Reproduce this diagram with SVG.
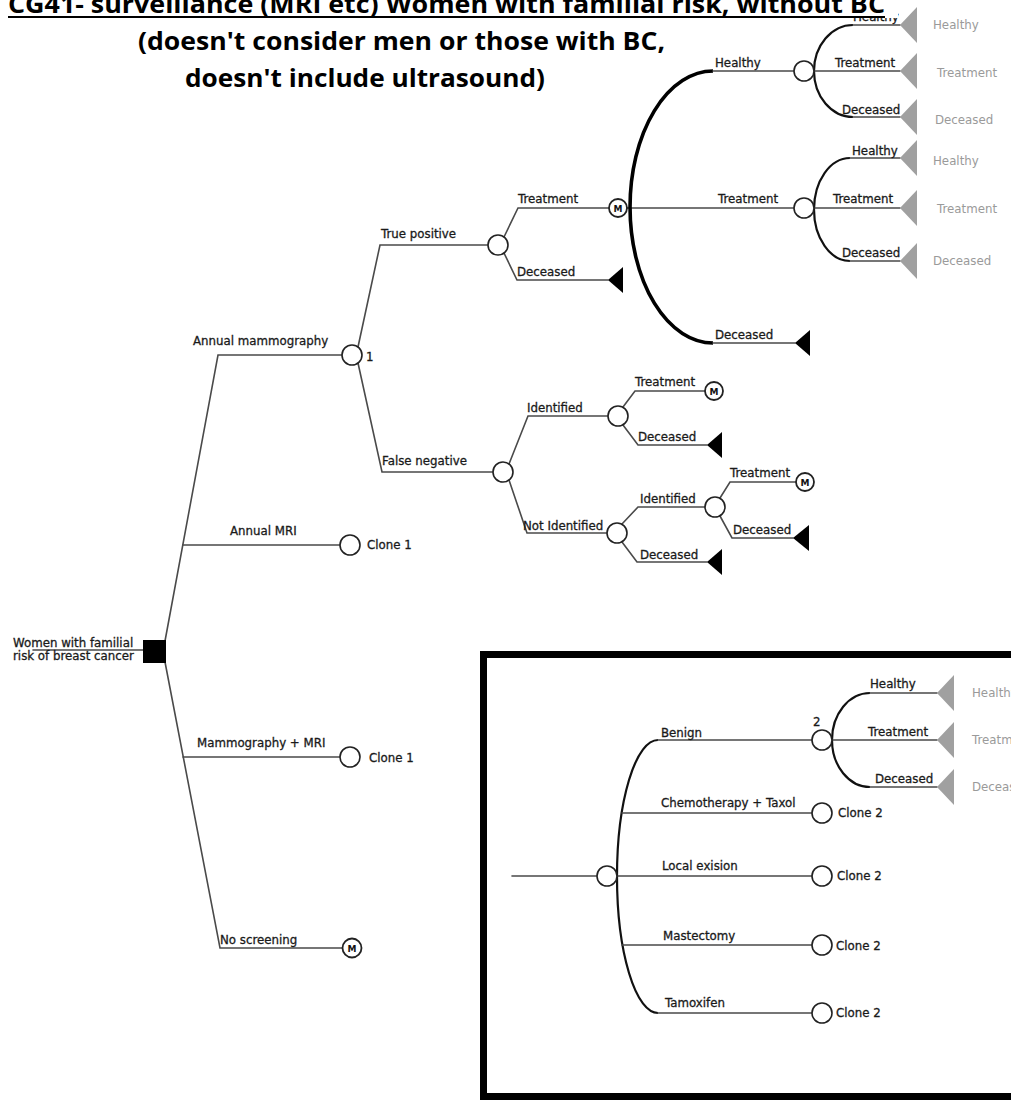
<svg xmlns="http://www.w3.org/2000/svg" width="1011" height="1100" viewBox="0 0 1011 1100">
<style>
.ln{stroke:#4a4a4a;stroke-width:1.6;fill:none;stroke-linecap:round}
.arc{stroke:#111;stroke-width:2.2;fill:none}
.arcb{stroke:#000;stroke-width:3.6;fill:none}
.ch{fill:#fff;stroke:#222;stroke-width:1.6}
.mc{fill:#fff;stroke:#222;stroke-width:1.8}
.mt{font-family:"DejaVu Sans",sans-serif;font-size:9px;font-weight:bold;fill:#111;text-anchor:middle}
.t{font-family:"DejaVu Sans",sans-serif;font-size:11.8px;fill:#1a1a1a;stroke:#1a1a1a;stroke-width:0.3}
.g{font-family:"DejaVu Sans",sans-serif;font-size:11.8px;fill:#9a9a9a}
.tb{fill:#000}
.tg{fill:#a0a0a0}
.title{font-family:"Open Sans","Liberation Sans",sans-serif;font-size:25px;font-weight:bold;fill:#000}
</style>
<rect width="1011" height="1100" fill="#fff"/>

<g id="connectors">
  <line class="ln" x1="33" y1="650" x2="143" y2="650"/>
  <polyline class="ln" points="165,641 218,355 342,355"/>
  <line class="ln" x1="183" y1="545" x2="340" y2="545"/>
  <polyline class="ln" points="165,662 220,948 342,948"/>
  <line class="ln" x1="183" y1="757" x2="340" y2="757"/>
  <polyline class="ln" points="358,347 380,245 488,245"/>
  <polyline class="ln" points="358,363 382,472 493,472"/>
  <polyline class="ln" points="504,237 518,208 609,208"/>
  <polyline class="ln" points="504,253 517,280 608,280"/>
  <line class="ln" x1="627" y1="208" x2="794" y2="208"/>
  <path class="arcb" d="M713,71 A83,136 0 0 0 713,343"/>
  <line class="ln" x1="713" y1="71" x2="794" y2="71"/>
  <line class="ln" x1="713" y1="343" x2="795" y2="343"/>
  <path class="arc" d="M853,25 A39,46 0 0 0 853,117"/>
  <line class="ln" x1="853" y1="25" x2="900" y2="25"/>
  <line class="ln" x1="814" y1="71" x2="900" y2="71"/>
  <line class="ln" x1="853" y1="117" x2="900" y2="117"/>
  <path class="arc" d="M850,158 A36,51.5 0 0 0 850,261"/>
  <line class="ln" x1="850" y1="158" x2="900" y2="158"/>
  <line class="ln" x1="814" y1="208" x2="900" y2="208"/>
  <line class="ln" x1="850" y1="261" x2="900" y2="261"/>
  <polyline class="ln" points="509,464 528,416 608,416"/>
  <polyline class="ln" points="509,480 527,533 607,533"/>
  <polyline class="ln" points="623,407 635,391 705,391"/>
  <polyline class="ln" points="623,425 638,445 707,445"/>
  <polyline class="ln" points="622,524 638,507 705,507"/>
  <polyline class="ln" points="622,542 637,562 707,562"/>
  <polyline class="ln" points="720,498 730,482 796,482"/>
  <polyline class="ln" points="720,516 732,538 793,538"/>
  <line class="ln" x1="512" y1="876" x2="597" y2="876"/>
  <path class="arc" d="M658,740 A41,136.5 0 0 0 658,1013"/>
  <line class="ln" x1="658" y1="740" x2="812" y2="740"/>
  <line class="ln" x1="622" y1="813" x2="812" y2="813"/>
  <line class="ln" x1="617" y1="876" x2="812" y2="876"/>
  <line class="ln" x1="622" y1="945" x2="812" y2="945"/>
  <line class="ln" x1="658" y1="1013" x2="812" y2="1013"/>
  <path class="arc" d="M870,693 A38,47 0 0 0 870,787"/>
  <line class="ln" x1="870" y1="693" x2="937" y2="693"/>
  <line class="ln" x1="832" y1="740" x2="937" y2="740"/>
  <line class="ln" x1="870" y1="787" x2="937" y2="787"/>
</g>

<g id="inset-frame"><rect x="483.5" y="654.5" width="600" height="442" fill="none" stroke="#000" stroke-width="7"/></g>

<g id="nodes">
  <g id="root"><rect x="143" y="640" width="23" height="23" fill="#000"/>
    <text class="t" x="13" y="647">Women with familial</text>
    <text class="t" x="13" y="660">risk of breast cancer</text></g>
  <g id="n-mammo"><circle class="ch" cx="352" cy="355" r="10"/><text class="t" x="366" y="361">1</text></g>
  <g id="n-mri"><circle class="ch" cx="350" cy="545" r="10"/><text class="t" x="367" y="549">Clone 1</text></g>
  <g id="n-mammo-mri"><circle class="ch" cx="350" cy="757" r="10"/><text class="t" x="369" y="762">Clone 1</text></g>
  <g id="n-noscreen"><circle class="mc" cx="352" cy="948" r="9.5"/><text class="mt" x="352" y="951.5">M</text></g>
  <g id="n-tp"><circle class="ch" cx="498" cy="245" r="10"/></g>
  <g id="n-tp-m"><circle class="mc" cx="618" cy="208" r="9"/><text class="mt" x="618" y="211.5">M</text></g>
  <g id="n-tp-dec"><polygon class="tb" points="608,280 623,267 623,293"/></g>
  <g id="n-healthy"><circle class="ch" cx="804" cy="71" r="10"/></g>
  <g id="n-treat"><circle class="ch" cx="804" cy="208" r="10"/></g>
  <g id="n-big-dec"><polygon class="tb" points="795,343 810,330 810,356"/></g>
  <g id="n-h-h"><polygon class="tg" points="900,25 917,7 917,43"/><text class="g" x="933" y="29">Healthy</text></g>
  <g id="n-h-t"><polygon class="tg" points="900,71 917,53 917,89"/><text class="g" x="937" y="77">Treatment</text></g>
  <g id="n-h-d"><polygon class="tg" points="900,117 917,99 917,135"/><text class="g" x="935" y="124">Deceased</text></g>
  <g id="n-t-h"><polygon class="tg" points="900,158 917,140 917,176"/><text class="g" x="933" y="165">Healthy</text></g>
  <g id="n-t-t"><polygon class="tg" points="900,208 917,190 917,226"/><text class="g" x="937" y="213">Treatment</text></g>
  <g id="n-t-d"><polygon class="tg" points="900,261 917,243 917,279"/><text class="g" x="933" y="265">Deceased</text></g>
  <g id="n-fn"><circle class="ch" cx="503" cy="472" r="10"/></g>
  <g id="n-fn-id"><circle class="ch" cx="618" cy="416" r="10"/></g>
  <g id="n-fn-id-m"><circle class="mc" cx="714" cy="391" r="9"/><text class="mt" x="714" y="394.5">M</text></g>
  <g id="n-fn-id-dec"><polygon class="tb" points="707,445 722,432 722,458"/></g>
  <g id="n-fn-nid"><circle class="ch" cx="617" cy="533" r="10"/></g>
  <g id="n-fn-nid-id"><circle class="ch" cx="715" cy="507" r="10"/></g>
  <g id="n-fn-nid-id-m"><circle class="mc" cx="805" cy="482" r="9"/><text class="mt" x="805" y="485.5">M</text></g>
  <g id="n-fn-nid-id-dec"><polygon class="tb" points="793,538 809,525 809,551"/></g>
  <g id="n-fn-nid-dec"><polygon class="tb" points="707,562 722,549 722,575"/></g>
  <g id="n-box-root"><circle class="ch" cx="607" cy="876" r="10"/></g>
  <g id="n-benign"><circle class="ch" cx="822" cy="740" r="10"/><text class="t" x="813" y="726">2</text></g>
  <g id="n-chemo"><circle class="ch" cx="822" cy="813" r="10"/><text class="t" x="838" y="817">Clone 2</text></g>
  <g id="n-local"><circle class="ch" cx="822" cy="876" r="10"/><text class="t" x="837" y="880">Clone 2</text></g>
  <g id="n-mast"><circle class="ch" cx="822" cy="945" r="10"/><text class="t" x="836" y="950">Clone 2</text></g>
  <g id="n-tamox"><circle class="ch" cx="822" cy="1013" r="10"/><text class="t" x="836" y="1017">Clone 2</text></g>
  <g id="n-b-h"><polygon class="tg" points="937,693 954,675 954,711"/><text class="g" x="972" y="697">Healthy</text></g>
  <g id="n-b-t"><polygon class="tg" points="937,740 954,722 954,758"/><text class="g" x="972" y="744">Treatment</text></g>
  <g id="n-b-d"><polygon class="tg" points="937,787 954,769 954,805"/><text class="g" x="972" y="791">Deceased</text></g>
</g>

<g id="branch-labels">
  <text class="t" x="193" y="345">Annual mammography</text>
  <text class="t" x="230" y="535">Annual MRI</text>
  <text class="t" x="197" y="747">Mammography + MRI</text>
  <text class="t" x="220" y="944">No screening</text>
  <text class="t" x="381" y="238">True positive</text>
  <text class="t" x="382" y="465">False negative</text>
  <text class="t" x="518" y="203">Treatment</text>
  <text class="t" x="517" y="276">Deceased</text>
  <text class="t" x="715" y="67">Healthy</text>
  <text class="t" x="718" y="203">Treatment</text>
  <text class="t" x="715" y="339">Deceased</text>
  <text class="t" x="853" y="21">Healthy</text>
  <text class="t" x="835" y="67">Treatment</text>
  <text class="t" x="842" y="114">Deceased</text>
  <text class="t" x="852" y="155">Healthy</text>
  <text class="t" x="833" y="203">Treatment</text>
  <text class="t" x="842" y="257">Deceased</text>
  <text class="t" x="527" y="412">Identified</text>
  <text class="t" x="635" y="386">Treatment</text>
  <text class="t" x="638" y="441">Deceased</text>
  <text class="t" x="523" y="530">Not Identified</text>
  <text class="t" x="640" y="503">Identified</text>
  <text class="t" x="640" y="559">Deceased</text>
  <text class="t" x="730" y="477">Treatment</text>
  <text class="t" x="733" y="534">Deceased</text>
  <text class="t" x="661" y="737">Benign</text>
  <text class="t" x="661" y="807">Chemotherapy + Taxol</text>
  <text class="t" x="662" y="870">Local exision</text>
  <text class="t" x="663" y="940">Mastectomy</text>
  <text class="t" x="665" y="1007">Tamoxifen</text>
  <text class="t" x="870" y="688">Healthy</text>
  <text class="t" x="868" y="736">Treatment</text>
  <text class="t" x="875" y="783">Deceased</text>
</g>

<g id="title">
  <rect x="0" y="0" width="898" height="18" fill="#fff"/>
  <text class="title" x="8" y="13" textLength="877" lengthAdjust="spacingAndGlyphs">CG41- surveillance (MRI etc) Women with familial risk, without BC</text>
  <line x1="8" y1="17" x2="885" y2="17" stroke="#000" stroke-width="2.2"/>
  <text class="title" x="138" y="50" textLength="527" lengthAdjust="spacingAndGlyphs">(doesn't consider men or those with BC,</text>
  <text class="title" x="185" y="87" textLength="360" lengthAdjust="spacingAndGlyphs">doesn't include ultrasound)</text>
</g>
</svg>
